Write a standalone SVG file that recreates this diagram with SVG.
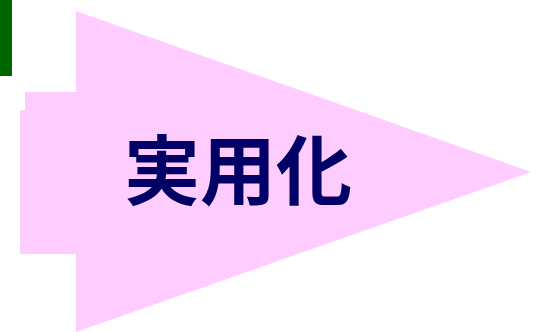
<svg xmlns="http://www.w3.org/2000/svg" width="539" height="332" viewBox="0 0 539 332">
<style>
.arrow{fill:#FFCCFF;stroke:none}
.bar{fill:#006600}
.lbl{font-family:"Noto Sans CJK JP","Noto Sans CJK SC",sans-serif;font-weight:bold;font-size:76px;fill:#000066}
</style>
<rect width="539" height="332" fill="#FFFFFF"/>
<g id="bar"><rect class="bar" x="0" y="0" width="12" height="76"/></g>
<g id="arrow">
<polygon class="arrow" points="76,11 531,172 76,332 76,254 20,254 20,110 25,110 25,92 76,92"/>
<text class="lbl" x="238" y="199" text-anchor="middle">実用化</text>
</g>
</svg>
